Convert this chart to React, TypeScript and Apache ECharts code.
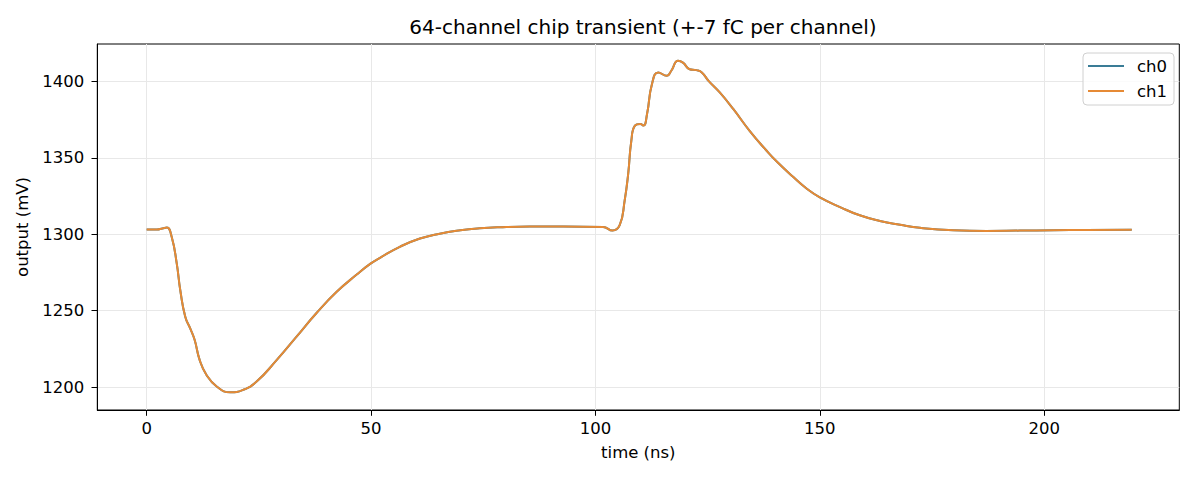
import React, { useEffect, useRef } from "react";
import * as echarts from "echarts";

const FONT = "DejaVu Sans";

const timeNs = [
  0, 1.2, 2.3, 3.5, 4.5, 5.6, 6.7, 7.5, 8.6, 9.7, 10.7, 11.8, 13.3, 15.6, 18.6,
  21.5, 24.5, 29, 33.4, 37.8, 42.4, 46.8, 49.8, 52, 56.4, 60.9, 65.3, 69.9, 74.2,
  78.7, 85.4, 92.8, 101.7, 103.8, 105.4, 106.5, 107.3, 108, 108.8, 110, 110.7,
  111.5, 112.6, 114, 115.9, 116.9, 118.4, 119.5, 121, 122.5, 123.7, 125.2, 127.7,
  130.7, 134.4, 138.1, 140.4, 144.1, 147.1, 149.9, 154.5, 158.9, 163.4, 167.9,
  172.3, 179.8, 187.1, 194.6, 202, 209.4, 219.5,
];

const ch0Values = [
  1303.1, 1303.1, 1303.1, 1303.8, 1304.4, 1298, 1280.9, 1263.2, 1246, 1238.4,
  1230.8, 1217.8, 1208.1, 1200.4, 1196.6, 1198.2, 1203.6, 1217.8, 1233, 1248.3,
  1262.5, 1273.6, 1280.6, 1284.6, 1291.8, 1297.2, 1300.4, 1302.6, 1303.9, 1304.6,
  1305, 1305, 1304.8, 1302.4, 1305.9, 1321.9, 1339.6, 1361.3, 1371.1, 1372.2,
  1371.1, 1378.7, 1398.3, 1405.9, 1403.7, 1407, 1413.5, 1412.3, 1408, 1407.4,
  1405.9, 1400.4, 1392.8, 1382, 1367.5, 1354.8, 1347.6, 1337.4, 1329.8, 1324.3,
  1317.8, 1312.4, 1308.7, 1306.2, 1304.2, 1302.6, 1302.2, 1302.4, 1302.6, 1302.8,
  1303,
];

const ch1Values = [
  1303.1, 1303.1, 1303.1, 1303.8, 1304.4, 1298, 1280.9, 1263.2, 1246, 1238.4,
  1230.8, 1217.8, 1208.1, 1200.4, 1196.6, 1198.2, 1203.6, 1217.8, 1233, 1248.3,
  1262.5, 1273.6, 1280.6, 1284.6, 1291.8, 1297.2, 1300.4, 1302.6, 1303.9, 1304.6,
  1305, 1305, 1304.8, 1302.4, 1305.9, 1321.9, 1339.6, 1361.3, 1371.1, 1372.2,
  1371.1, 1378.7, 1398.3, 1405.9, 1403.7, 1407, 1413.5, 1412.3, 1408, 1407.4,
  1405.9, 1400.4, 1392.8, 1382, 1367.5, 1354.8, 1347.6, 1337.4, 1329.8, 1324.3,
  1317.8, 1312.4, 1308.7, 1306.2, 1304.2, 1302.6, 1302.2, 1302.4, 1302.6, 1302.8,
  1303,
];

const xTicks = [0, 50, 100, 150, 200];
const yTicks = [1200, 1250, 1300, 1350, 1400];

const seriesNames = ["ch0", "ch1"];
const seriesColors = ["#3a7c96", "#e68a35"];

export default function App() {
  const ref = useRef<HTMLDivElement>(null);

  useEffect(() => {
    document.body.style.margin = "0";
    if (!ref.current) return;
    const chart = echarts.init(ref.current, null, { renderer: "svg" });
    const pairs = (vals: number[]) => timeNs.map((t, i) => [t, vals[i]]);
    const textBase = { color: "#000", fontFamily: FONT };
    const fmt = (v: number) => String(v);
    chart.setOption({
      animation: false,
      backgroundColor: "#fff",
      color: seriesColors,
      title: {
        text: "64-channel chip transient (+-7 fC per channel)",
        left: 638,
        textAlign: "center",
        top: 12,
        textStyle: { ...textBase, fontSize: 20, fontWeight: "normal" },
      },
      legend: {
        data: seriesNames,
        orient: "vertical",
        left: 1083,
        top: 53,
        icon: "rect",
        itemWidth: 36,
        itemHeight: 2,
        itemGap: 5,
        padding: [3, 7, 4, 5],
        borderColor: "#d0d0d0",
        borderWidth: 1,
        borderRadius: 4,
        backgroundColor: "rgba(255,255,255,0.8)",
        textStyle: { ...textBase, fontSize: 16.5, lineHeight: 20, padding: [0, 0, 0, 8] },
      },
      grid: {
        left: 97.3,
        right: 20.7,
        top: 44,
        bottom: 70,
        show: true,
        borderColor: "#000",
        borderWidth: 1,
        backgroundColor: "transparent",
      },
      xAxis: {
        type: "value",
        min: -11,
        max: 230.1,
        name: "time (ns)",
        nameLocation: "middle",
        nameGap: 34,
        nameTextStyle: { ...textBase, fontSize: 16.5 },
        axisLine: { show: true, onZero: false, lineStyle: { color: "#000", width: 1 } },
        axisTick: { show: true, length: 5.8, customValues: xTicks, lineStyle: { color: "#000", width: 1 } },
        axisLabel: { ...textBase, fontSize: 16.5, margin: 10, customValues: xTicks, formatter: fmt },
        splitLine: { show: true, lineStyle: { color: "#e8e8e8", width: 1 } },
      },
      yAxis: {
        type: "value",
        min: 1185,
        max: 1424.5,
        name: "output (mV)",
        nameLocation: "middle",
        nameGap: 54,
        nameRotate: 90,
        nameTextStyle: { ...textBase, fontSize: 16.5 },
        axisLine: { show: true, onZero: false, lineStyle: { color: "#000", width: 1 } },
        axisTick: { show: true, length: 5.8, customValues: yTicks, lineStyle: { color: "#000", width: 1 } },
        axisLabel: { ...textBase, fontSize: 16.5, margin: 13, customValues: yTicks, formatter: fmt },
        splitLine: { show: true, lineStyle: { color: "#e8e8e8", width: 1 } },
      },
      series: [
        {
          name: seriesNames[0],
          type: "line",
          data: pairs(ch0Values),
          showSymbol: false,
          symbol: "none",
          smooth: 0.5,
          lineStyle: { width: 2, color: seriesColors[0] },
          itemStyle: { color: seriesColors[0] },
        },
        {
          name: seriesNames[1],
          type: "line",
          data: pairs(ch1Values),
          showSymbol: false,
          symbol: "none",
          smooth: 0.5,
          lineStyle: { width: 2, color: seriesColors[1] },
          itemStyle: { color: seriesColors[1] },
        },
      ],
    });
    return () => chart.dispose();
  }, []);

  return (
    <div
      ref={ref}
      style={{ position: "absolute", left: 0, top: 0, width: 1200, height: 480 }}
    />
  );
}
